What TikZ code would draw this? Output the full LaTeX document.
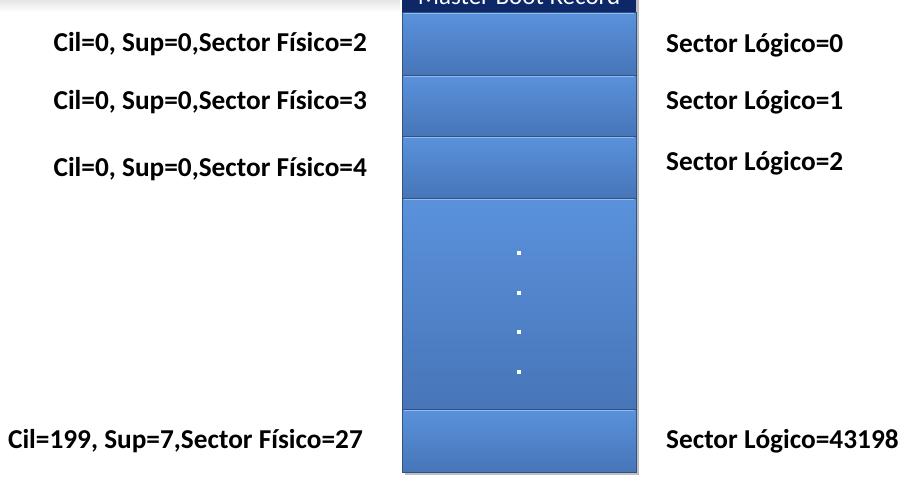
\documentclass[tikz,border=0pt]{standalone}
\usepackage{fontspec}
\setmainfont{Carlito}
\definecolor{rowtop}{HTML}{5A92DC}
\definecolor{rowbot}{HTML}{4775B8}
\definecolor{rowline}{HTML}{8FBDF2}
\definecolor{mbrblue}{HTML}{0E2766}
\tikzset{
    sector/.style={draw=rowbot!70!black, line width=0.6pt, top color=rowtop, bottom color=rowbot},
    label/.style={font=\bfseries\fontsize{27.3}{30}\selectfont, inner sep=0pt},
    dot/.style={fill=white, minimum size=4pt, inner sep=0pt}
}
\begin{document}
\begin{tikzpicture}[x=1pt, y=-1pt]
    \useasboundingbox (0,0) rectangle (922,480);
    \fill[white] (0,0) rectangle (922,480);
    \shade[top color=black!12, bottom color=white] (0,-2) rectangle (400,12);

    % column of sectors
    \fill[black!25] (405,-20) rectangle (639,475);
    \fill[mbrblue] (402,-20) rectangle (636,12);
    \node[text=white, font=\fontsize{25}{28}\selectfont, anchor=base] (mbr) at (519,4) {Master Boot Record};
    \foreach \ya/\yb [count=\i] in {12/75, 75/136, 136/198, 198/409, 409/472} {
        \draw[sector] (402,\ya) rectangle (636,\yb);
        \draw[rowline, line width=1.5pt] (404,\ya+1.5) -- (634,\ya+1.5);
        \coordinate (s\i) at (519,{(\ya+\yb)/2});
    }
    \foreach \y [count=\j] in {253,293,332,372}
        \node[dot] (d\j) at (519,\y) {};

    % physical sectors
    \node[label, anchor=east] (f2) at (367,44) {Cil=0, Sup=0,Sector Físico=2};
    \node[label, anchor=east] (f3) at (367,102) {Cil=0, Sup=0,Sector Físico=3};
    \node[label, anchor=east] (f4) at (367,169) {Cil=0, Sup=0,Sector Físico=4};
    \node[label, anchor=east] (f27) at (363,441) {Cil=199, Sup=7,Sector Físico=27};

    % logical sectors
    \node[label, anchor=west] (l0) at (666,45) {Sector Lógico=0};
    \node[label, anchor=west] (l1) at (666,102) {Sector Lógico=1};
    \node[label, anchor=west] (l2) at (666,163) {Sector Lógico=2};
    \node[label, anchor=west] (l43198) at (666,441) {Sector Lógico=43198};
\end{tikzpicture}
\end{document}
